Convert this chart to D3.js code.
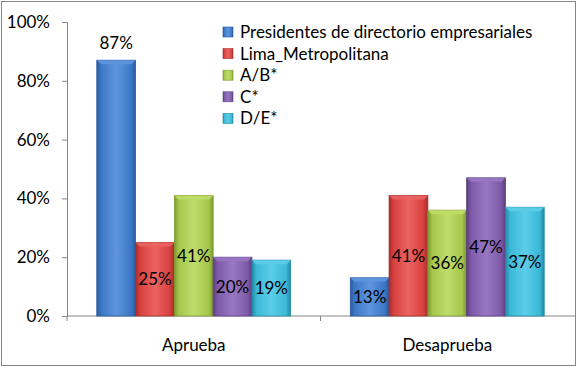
<!DOCTYPE html>
<html>
<head>
<meta charset="utf-8">
<script src="https://cdn.jsdelivr.net/npm/d3@7"></script>
<style>
  body { margin: 0; background: #fff; }
  text { font-family: Lato, "Open Sans", sans-serif; fill: #000; }
</style>
</head>
<body>
<svg id="chart" width="577" height="367"></svg>
<script>
// data
var categories = ["Aprueba", "Desaprueba"];
var seriesNames = ["Presidentes de directorio empresariales", "Lima_Metropolitana", "A/B*", "C*", "D/E*"];
var aprueba = [87, 25, 41, 20, 19];
var desaprueba = [13, 41, 36, 47, 37];
var yTicks = [0, 20, 40, 60, 80, 100];

// colours: base, light, dark
var colors = [
    ["#3c78c8", "#5e95dd", "#2b5a9c"],
    ["#d8413e", "#ea6461", "#a52d2b"],
    ["#a5c84b", "#bfdc6c", "#7c9a30"],
    ["#7e5ba8", "#9877c2", "#5c3f80"],
    ["#3bb8d8", "#5ccde9", "#2389a3"]
];

var svg = d3.select("#chart"),
    width = +svg.attr("width"),
    height = +svg.attr("height");

var plotLeft = 67, plotRight = 574, plotTop = 22, plotBottom = 316;

// outer border
svg.append("rect")
    .attr("x", 1.5).attr("y", 1.5)
    .attr("width", width - 3).attr("height", height - 3)
    .attr("fill", "#fff")
    .attr("stroke", "#868686")
    .attr("stroke-width", 1);

var x0 = d3.scaleBand()
    .domain(categories)
    .range([plotLeft, plotRight])
    .paddingInner(0.235)
    .paddingOuter(0.1175);

var x1 = d3.scaleBand()
    .domain(d3.range(seriesNames.length))
    .range([0, x0.bandwidth()]);

var y = d3.scaleLinear().domain([0, 100]).range([plotBottom, plotTop]);

var defs = svg.append("defs");
colors.forEach(function(c, i) {
    var grad = defs.append("linearGradient")
        .attr("id", "grad" + i)
        .attr("x1", "0%").attr("x2", "100%")
        .attr("y1", "0%").attr("y2", "0%");
    grad.append("stop").attr("offset", "0%").attr("stop-color", c[2]);
    grad.append("stop").attr("offset", "12%").attr("stop-color", c[0]);
    grad.append("stop").attr("offset", "50%").attr("stop-color", c[1]);
    grad.append("stop").attr("offset", "88%").attr("stop-color", c[0]);
    grad.append("stop").attr("offset", "100%").attr("stop-color", c[2]);
});

// axes
var yAxis = d3.axisLeft(y)
    .tickValues(yTicks)
    .tickSize(5)
    .tickFormat(function(d) { return d + "%"; });

var gy = svg.append("g")
    .attr("transform", "translate(" + plotLeft + ",0)")
    .call(yAxis);
gy.select(".domain").attr("stroke", "#868686");
gy.selectAll(".tick line").attr("stroke", "#868686");
gy.selectAll(".tick text")
    .attr("x", -17)
    .attr("fill", "#000")
    .style("font-size", "17px")
    .style("font-family", "Lato, sans-serif");

var gx = svg.append("g")
    .attr("transform", "translate(0," + plotBottom + ")");
gx.append("line")
    .attr("x1", plotLeft).attr("x2", plotRight + 1)
    .attr("stroke", "#868686");
gx.selectAll(".sep")
    .data([plotLeft, (x0("Aprueba") + x0.bandwidth() + x0("Desaprueba")) / 2])
    .enter().append("line")
    .attr("x1", function(d) { return d; })
    .attr("x2", function(d) { return d; })
    .attr("y1", 0).attr("y2", 5)
    .attr("stroke", "#868686");
gx.selectAll(".cat")
    .data(categories)
    .enter().append("text")
    .attr("x", function(d) { return x0(d) + x0.bandwidth() / 2; })
    .attr("y", 35)
    .attr("text-anchor", "middle")
    .style("font-size", "17px")
    .text(function(d) { return d; });

// bars
var rows = categories.map(function(c, ci) {
    var vals = ci === 0 ? aprueba : desaprueba;
    return vals.map(function(v, si) { return {cat: c, s: si, v: v}; });
});

var groups = svg.selectAll(".group")
    .data(rows)
    .enter().append("g")
    .attr("transform", function(d, i) { return "translate(" + x0(categories[i]) + ",0)"; });

var bar = groups.selectAll(".bar")
    .data(function(d) { return d; })
    .enter().append("g");

bar.append("rect")
    .attr("x", function(d) { return x1(d.s); })
    .attr("y", function(d) { return y(d.v); })
    .attr("width", x1.bandwidth())
    .attr("height", function(d) { return plotBottom - y(d.v); })
    .attr("fill", function(d) { return "url(#grad" + d.s + ")"; })
    .attr("stroke", function(d) { return colors[d.s][2]; })
    .attr("stroke-width", 0.8);

// top bevel
bar.append("path")
    .attr("d", function(d) {
        var xa = x1(d.s), xb = xa + x1.bandwidth(), ya = y(d.v), b = 4;
        return "M" + xa + "," + ya + "L" + xb + "," + ya + "L" + (xb - b) + "," + (ya + b) + "L" + (xa + b) + "," + (ya + b) + "Z";
    })
    .attr("fill", function(d) { return colors[d.s][1]; })
    .attr("opacity", 0.9);

// value labels
bar.append("text")
    .attr("x", function(d) { return x1(d.s) + x1.bandwidth() / 2; })
    .attr("y", function(d) {
        if (d.v > 80) return y(d.v) - 11;
        return (y(d.v) + plotBottom) / 2 + 6;
    })
    .attr("text-anchor", "middle")
    .style("font-size", "17px")
    .text(function(d) { return d.v + "%"; });

// legend
var legend = svg.append("g").attr("transform", "translate(223,27)");
var item = legend.selectAll(".item")
    .data(seriesNames)
    .enter().append("g")
    .attr("transform", function(d, i) { return "translate(0," + (i * 21.6) + ")"; });
item.append("rect")
    .attr("width", 10).attr("height", 10)
    .attr("fill", function(d, i) { return "url(#grad" + i + ")"; })
    .attr("stroke", function(d, i) { return colors[i][2]; })
    .attr("stroke-width", 0.6);
item.append("text")
    .attr("x", 17).attr("y", 11)
    .style("font-size", "17px")
    .text(function(d) { return d; });
</script>
</body>
</html>
